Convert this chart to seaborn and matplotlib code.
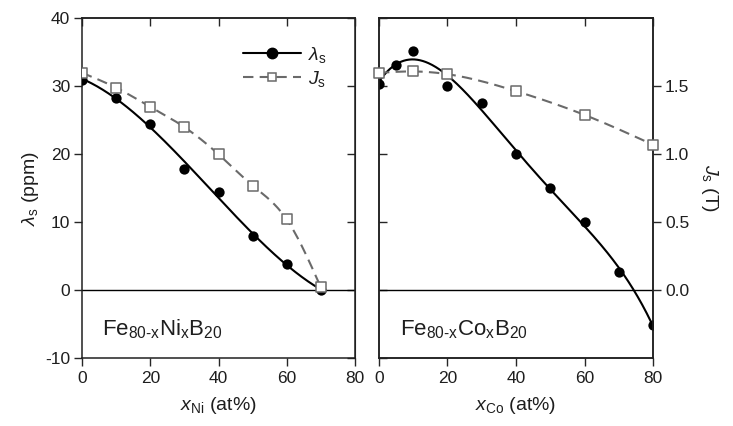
import numpy as np
import pandas as pd
import matplotlib
matplotlib.use("Agg")
import matplotlib.pyplot as plt
from matplotlib.lines import Line2D
import seaborn as sns

# Fe(80-x)Ni(x)B20 series
x_ni = [0, 10, 20, 30, 40, 50, 60, 70]
lam_ni = [31.0, 28.3, 24.5, 17.8, 14.4, 8.0, 3.9, 0.0]
js_ni = [1.60, 1.49, 1.35, 1.20, 1.00, 0.77, 0.52, 0.02]

# Fe(80-x)Co(x)B20 series
x_co_lam = [0, 5, 10, 20, 30, 40, 50, 60, 70, 80]
lam_co = [30.4, 33.2, 35.2, 30.0, 27.5, 20.0, 15.0, 10.0, 2.6, -5.1]
x_co_js = [0, 10, 20, 40, 60, 80]
js_co = [1.60, 1.61, 1.59, 1.465, 1.29, 1.07]

lam_ticks = [-10, 0, 10, 20, 30, 40]
js_ticks = [0.0, 0.5, 1.0, 1.5]
x_ticks = [0, 20, 40, 60, 80]

sns.set_style("ticks")
plt.rcParams["font.family"] = ["Liberation Sans", "DejaVu Sans"]
plt.rcParams["mathtext.fontset"] = "custom"
plt.rcParams["mathtext.rm"] = "Liberation Sans"
plt.rcParams["mathtext.it"] = "Liberation Sans:italic"
plt.rcParams["mathtext.bf"] = "Liberation Sans:bold"
plt.rcParams["axes.unicode_minus"] = False

TXT = "#1e1e1e"
GRAY = "#6a6a6a"


def natural_spline(x, y, xs):
    x = np.asarray(x, float)
    y = np.asarray(y, float)
    n = len(x)
    h = np.diff(x)
    A = np.zeros((n, n))
    b = np.zeros(n)
    A[0, 0] = A[-1, -1] = 1.0
    for i in range(1, n - 1):
        A[i, i - 1] = h[i - 1]
        A[i, i] = 2 * (h[i - 1] + h[i])
        A[i, i + 1] = h[i]
        b[i] = 3 * ((y[i + 1] - y[i]) / h[i] - (y[i] - y[i - 1]) / h[i - 1])
    c = np.linalg.solve(A, b)
    out = np.empty_like(xs)
    for k, xv in enumerate(xs):
        i = min(max(np.searchsorted(x, xv) - 1, 0), n - 2)
        t = xv - x[i]
        bb = (y[i + 1] - y[i]) / h[i] - h[i] * (2 * c[i] + c[i + 1]) / 3
        d = (c[i + 1] - c[i]) / (3 * h[i])
        out[k] = y[i] + bb * t + c[i] * t ** 2 + d * t ** 3
    return out


def poly_curve(x, y, deg, xs):
    return np.polyval(np.polyfit(x, y, deg), xs)


fig = plt.figure(figsize=(7.33, 4.26), dpi=100)
ax1 = fig.add_axes([0.1119, 0.1596, 0.3724, 0.797])
ax2 = fig.add_axes([0.5170, 0.1596, 0.3740, 0.797], sharey=ax1)
ax2r = ax2.twinx()

for ax in (ax1, ax2, ax2r):
    for s in ax.spines.values():
        s.set_linewidth(1.1)
        s.set_color("#202020")
        s.set_visible(True)

# --- left panel: Ni ---
xs1 = np.linspace(0, 70, 300)
sns.lineplot(x=xs1, y=poly_curve(x_ni, lam_ni, 3, xs1), ax=ax1, color="k",
             lw=1.5, sort=False, estimator=None, zorder=3)
sns.lineplot(x=xs1, y=natural_spline(x_ni, np.array(js_ni) * 20, xs1), ax=ax1,
             color=GRAY, lw=1.5, sort=False, estimator=None, zorder=3,
             linestyle=(0, (5, 3)))
sns.scatterplot(x=x_ni, y=lam_ni, ax=ax1, color="k", marker="o", s=55,
                edgecolor="k", linewidth=0, zorder=4)
sns.scatterplot(x=x_ni, y=np.array(js_ni) * 20, ax=ax1, color="white", marker="s",
                s=42, edgecolor=GRAY, linewidth=1.1, zorder=5)

# --- right panel: Co ---
xs2 = np.linspace(0, 80, 300)
sns.lineplot(x=xs2, y=poly_curve(x_co_lam, lam_co, 4, xs2), ax=ax2, color="k",
             lw=1.5, sort=False, estimator=None, zorder=3)
sns.scatterplot(x=x_co_lam, y=lam_co, ax=ax2, color="k", marker="o", s=55,
                edgecolor="k", linewidth=0, zorder=4)
sns.lineplot(x=xs2, y=natural_spline(x_co_js, js_co, xs2), ax=ax2r, color=GRAY,
             lw=1.5, sort=False, estimator=None, zorder=3, linestyle=(0, (5, 3)))
sns.scatterplot(x=x_co_js, y=js_co, ax=ax2r, color="white", marker="s", s=42,
                edgecolor=GRAY, linewidth=1.1, zorder=5, clip_on=False)

for ax in (ax1, ax2):
    ax.axhline(0, color="k", lw=1.0, zorder=2)
    ax.set_xlim(0, 80)
    ax.set_xticks(x_ticks)
    ax.tick_params(axis="x", direction="out", length=5.5, width=1.0,
                   labelsize=12.5, labelcolor=TXT, pad=4)
    top = ax.secondary_xaxis("top")
    top.set_xticks(x_ticks)
    top.tick_params(direction="in", length=5.5, width=1.0, labeltop=False)
    top.spines["top"].set_linewidth(1.1)

ax1.set_ylim(-10, 40)
ax1.set_yticks(lam_ticks)
ax1.tick_params(axis="y", direction="out", length=5.5, width=1.0,
                labelsize=12.5, labelcolor=TXT, pad=3)
r1 = ax1.secondary_yaxis("right")
r1.set_yticks(lam_ticks)
r1.tick_params(direction="in", length=5.5, width=1.0, labelright=False)

ax2.tick_params(axis="y", direction="in", length=5.5, width=1.0, labelleft=False)
ax2r.set_ylim(-0.5, 2.0)
ax2r.set_yticks(js_ticks)
ax2r.set_yticklabels([f"{v:.1f}" for v in js_ticks])
ax2r.tick_params(axis="y", direction="out", length=5.5, width=1.0,
                 labelsize=12.5, labelcolor=TXT, pad=3)

ax1.set_xlabel(r"$x_{\mathrm{Ni}}$ (at%)", fontsize=14, color=TXT, labelpad=6)
ax2.set_xlabel(r"$x_{\mathrm{Co}}$ (at%)", fontsize=14, color=TXT, labelpad=6)
ax1.set_ylabel(r"$\lambda_{\mathrm{s}}$ (ppm)", fontsize=14, color=TXT, labelpad=3)
ax2r.set_ylabel(r"$J_{\mathrm{s}}$ (T)", fontsize=14, color=TXT, rotation=270,
                labelpad=22)
ax2.set_ylabel("")

ax1.text(6.0, -5.8, r"Fe$_{\mathrm{80\text{-}x}}$Ni$_{\mathrm{x}}$B$_{20}$",
         fontsize=16, color=TXT, va="center", ha="left")
ax2.text(6.0, -5.8, r"Fe$_{\mathrm{80\text{-}x}}$Co$_{\mathrm{x}}$B$_{20}$",
         fontsize=16, color=TXT, va="center", ha="left")

handles = [
    Line2D([], [], color="k", lw=1.5, marker="o", ms=7.5, mec="k"),
    Line2D([], [], color=GRAY, lw=1.5, linestyle=(0, (5, 3)), marker="s", ms=5.5,
           mfc="white", mec=GRAY, mew=1.1),
]
leg = ax1.legend(handles, [r"$\lambda_{\mathrm{s}}$", r"$J_{\mathrm{s}}$"],
                 loc="upper left", bbox_to_anchor=(0.59, 0.922), frameon=False,
                 fontsize=14, handlelength=3.0, handletextpad=0.35,
                 labelspacing=0.2, borderpad=0, borderaxespad=0)
for t in leg.get_texts():
    t.set_color(TXT)

fig.savefig("out.png", dpi=100)
